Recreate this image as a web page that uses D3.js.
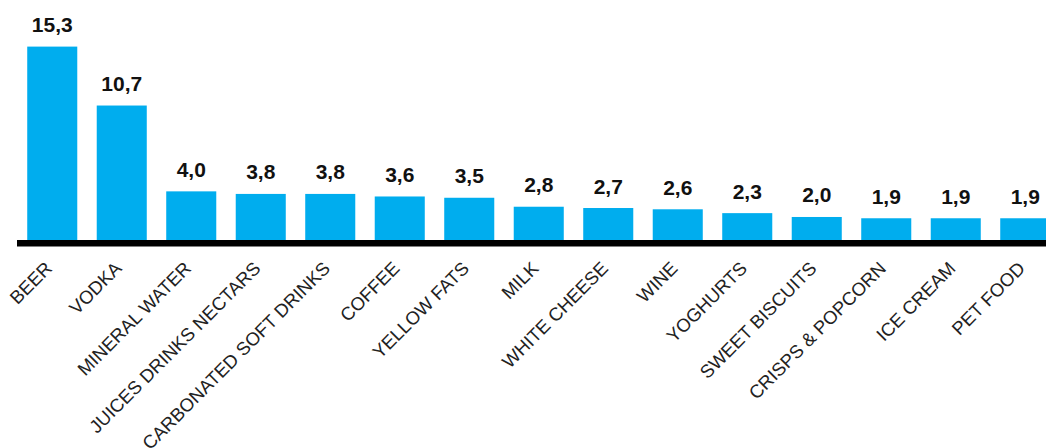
<!DOCTYPE html>
<html><head><meta charset="utf-8">
<script src="https://cdn.jsdelivr.net/npm/d3@7"></script>
<style>body{margin:0;background:#fff;}svg{display:block;font-family:"Liberation Sans",Arial,sans-serif;}</style>
</head><body>
<script>
const categories = ["BEER","VODKA","MINERAL WATER","JUICES DRINKS NECTARS","CARBONATED SOFT DRINKS","COFFEE","YELLOW FATS","MILK","WHITE CHEESE","WINE","YOGHURTS","SWEET BISCUITS","CRISPS & POPCORN","ICE CREAM","PET FOOD"];
const values = [15.3,10.7,4.0,3.8,3.8,3.6,3.5,2.8,2.7,2.6,2.3,2.0,1.9,1.9,1.9];
const valueLabels = ["15,3","10,7","4,0","3,8","3,8","3,6","3,5","2,8","2,7","2,6","2,3","2,0","1,9","1,9","1,9"];

const W = 1046, H = 448;
const baseY = 242.6;
const svg = d3.select("body").append("svg").attr("width", W).attr("height", H);

const x = d3.scaleBand().domain(categories).range([17.5, 17.5 + 69.5*15]).paddingInner(0.28).paddingOuter(0.14);
const y = d3.scaleLinear().domain([0, 15.3]).range([baseY, 46.6]);

svg.selectAll("rect.bar").data(values).join("rect")
  .attr("class","bar")
  .attr("x",(d,i)=>x(categories[i]))
  .attr("width",x.bandwidth())
  .attr("y",d=>y(d))
  .attr("height",d=>baseY-y(d))
  .attr("fill","#00adee");

svg.selectAll("text.val").data(values).join("text")
  .attr("class","val")
  .attr("x",(d,i)=>x(categories[i])+x.bandwidth()/2)
  .attr("y",d=>y(d)-14.5)
  .attr("text-anchor","middle")
  .attr("font-weight","bold")
  .attr("font-size",21)
  .attr("fill","#111")
  .text((d,i)=>valueLabels[i]);

const axis = d3.axisBottom(x).tickSize(0).tickPadding(0);
const g = svg.append("g").attr("transform",`translate(0,${baseY})`).call(axis);
g.select(".domain").remove();
svg.append("line").attr("x1",17).attr("x2",W).attr("y1",243.3).attr("y2",243.3)
  .attr("stroke","#000").attr("stroke-width",6.5);
g.selectAll(".tick text")
  .attr("transform","translate(1,27) rotate(-45)")
  .attr("x",0).attr("y",0).attr("dy",0)
  .attr("text-anchor","end")
  .attr("font-size",18.5)
  .attr("font-family","Liberation Sans, Arial, sans-serif")
  .attr("fill","#222");
</script>
</body></html>
